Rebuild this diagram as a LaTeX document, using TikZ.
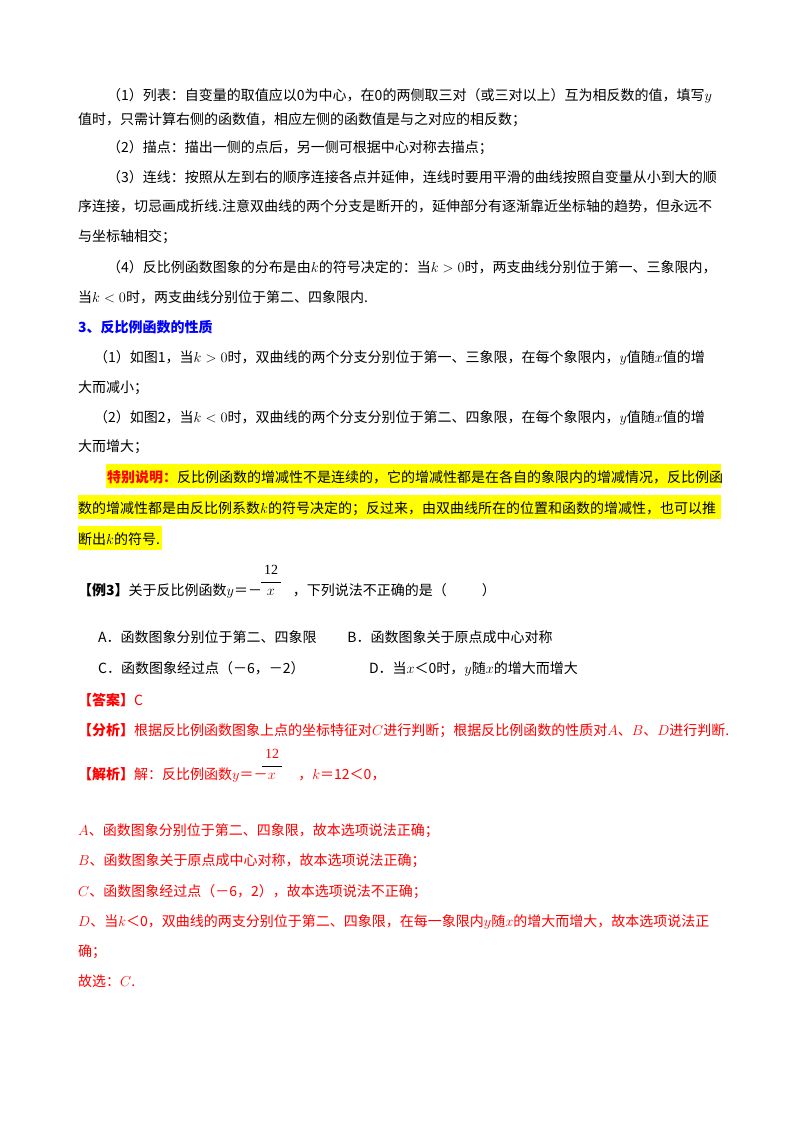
\documentclass[tikz,border=0pt]{standalone}
\usepackage{fontspec}
\setmainfont{Liberation Serif}
\newfontfamily\cjk{Noto Sans CJK SC}
\definecolor{rd}{RGB}{255,0,0}
\definecolor{bl}{RGB}{0,0,255}
\definecolor{hy}{RGB}{255,255,0}
\begin{document}
\begin{tikzpicture}[x=1pt,y=-1pt,
  ln/.style={anchor=base west,inner sep=0pt,font=\fontsize{14}{14}\selectfont\cjk},
  rl/.style={ln,text=rd}]
\useasboundingbox (0,0) rectangle (800,1132);
\fill[white] (0,0) rectangle (800,1132);
\fill[hy] (106,464) rectangle (721,488);
\fill[hy] (78,495) rectangle (721,519);
\fill[hy] (78,526) rectangle (162,550);
\node[ln] (l1) at (107,100) {（1）列表：自变量的取值应以0为中心，在0的两侧取三对（或三对以上）互为相反数的值，填写$y$};
\node[ln] (l2) at (78,124) {值时，只需计算右侧的函数值，相应左侧的函数值是与之对应的相反数；};
\node[ln] (l3) at (107,152) {（2）描点：描出一侧的点后，另一侧可根据中心对称去描点；};
\node[ln] (l4) at (107,182) {（3）连线：按照从左到右的顺序连接各点并延伸，连线时要用平滑的曲线按照自变量从小到大的顺};
\node[ln] (l5) at (78,211) {序连接，切忌画成折线.注意双曲线的两个分支是断开的，延伸部分有逐渐靠近坐标轴的趋势，但永远不};
\node[ln] (l6) at (78,241) {与坐标轴相交；};
\node[ln] (l7) at (107,272) {（4）反比例函数图象的分布是由$k$的符号决定的：当$k>0$时，两支曲线分别位于第一、三象限内，};
\node[ln] (l8) at (78,302) {当$k<0$时，两支曲线分别位于第二、四象限内.};
\node[ln,text=bl,font=\fontsize{14}{14}\selectfont\cjk\bfseries] (h3) at (78,332) {3、反比例函数的性质};
\node[ln] (p1) at (94,362) {（1）如图1，当$k>0$时，双曲线的两个分支分别位于第一、三象限，在每个象限内，$y$值随$x$值的增};
\node[ln] (p2) at (78,392) {大而减小；};
\node[ln] (p3) at (94,422) {（2）如图2，当$k<0$时，双曲线的两个分支分别位于第二、四象限，在每个象限内，$y$值随$x$值的增};
\node[ln] (p4) at (78,451) {大而增大；};
\node[ln] (s1) at (107,482) {\textcolor{rd}{\bfseries 特别说明：}反比例函数的增减性不是连续的，它的增减性都是在各自的象限内的增减情况，反比例函};
\node[ln] (s2) at (78,513) {数的增减性都是由反比例系数$k$的符号决定的；反过来，由双曲线所在的位置和函数的增减性，也可以推};
\node[ln] (s3) at (78,544) {断出$k$的符号.};
\node[ln] (e1) at (78,595) {\textbf{【例3】}关于反比例函数$y$＝－\hspace{2.2em}，下列说法不正确的是（\hspace{2.5em}）};
\node[ln,anchor=base,font=\fontsize{14}{14}\selectfont] (f1) at (271,574) {12};
\node[ln,anchor=base,font=\fontsize{14}{14}\selectfont] (f1b) at (271,595) {$x$};
\draw (261,582) -- (281,582);
\node[ln] (a1) at (98,642) {A．函数图象分别位于第二、四象限\hspace{2.2em}B．函数图象关于原点成中心对称};
\node[ln] (a2) at (98,673) {C．函数图象经过点（－6，－2）\hspace{4.6em}D．当$x$＜0时，$y$随$x$的增大而增大};
\node[rl] (ans) at (78,705) {\textbf{【答案】}C};
\node[rl] (fx) at (78,735) {\textbf{【分析】}根据反比例函数图象上点的坐标特征对$C$进行判断；根据反比例函数的性质对$A$、$B$、$D$进行判断.};
\node[rl] (jx) at (78,779) {\textbf{【解析】}解：反比例函数$y$＝－\hspace{2.2em}，$k$＝12＜0，};
\node[rl,anchor=base,font=\fontsize{14}{14}\selectfont] (f2) at (272,758) {12};
\node[rl,anchor=base,font=\fontsize{14}{14}\selectfont] (f2b) at (272,779) {$x$};
\draw (262,766) -- (282,766);
\node[rl] (r1) at (78,835) {$A$、函数图象分别位于第二、四象限，故本选项说法正确；};
\node[rl] (r2) at (78,865) {$B$、函数图象关于原点成中心对称，故本选项说法正确；};
\node[rl] (r3) at (78,896) {$C$、函数图象经过点（－6，2），故本选项说法不正确；};
\node[rl] (r4) at (78,926) {$D$、当$k$＜0，双曲线的两支分别位于第二、四象限，在每一象限内$y$随$x$的增大而增大，故本选项说法正};
\node[rl] (r5) at (78,956) {确；};
\node[rl] (r6) at (78,986) {故选：$C$.};
\end{tikzpicture}
\end{document}
